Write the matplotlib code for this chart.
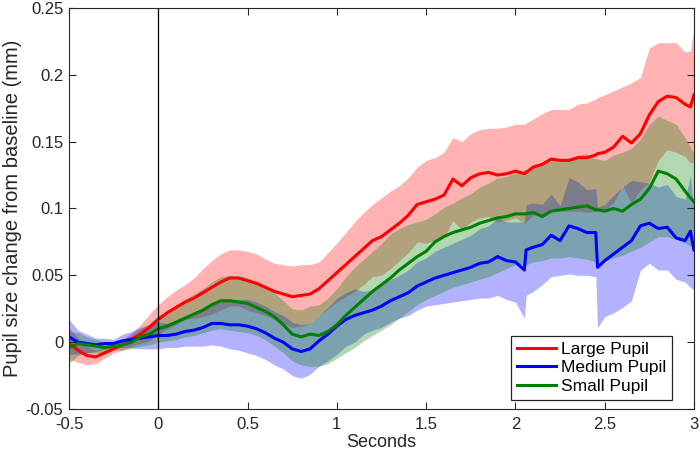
import numpy as np
import matplotlib
matplotlib.use('Agg')
import matplotlib.pyplot as plt
from matplotlib.ticker import FixedLocator, FixedFormatter

plt.rcParams['font.family'] = ['Liberation Sans', 'DejaVu Sans']

# time axis (s)
time_s = [-0.50, -0.45, -0.40, -0.35, -0.30, -0.25, -0.20, -0.15, -0.10, -0.05,
          0.00, 0.05, 0.10, 0.15, 0.20, 0.25, 0.30, 0.35, 0.40, 0.45,
          0.50, 0.55, 0.60, 0.65, 0.70, 0.75, 0.80, 0.85, 0.90, 0.95,
          1.00, 1.05, 1.10, 1.15, 1.20, 1.25, 1.30, 1.35, 1.40, 1.45,
          1.50, 1.55, 1.60, 1.65, 1.70, 1.75, 1.80, 1.85, 1.90, 1.95,
          2.00, 2.05, 2.06, 2.10, 2.15, 2.20, 2.25, 2.30, 2.35, 2.40,
          2.45, 2.46, 2.50, 2.55, 2.60, 2.65, 2.70, 2.75, 2.80, 2.85,
          2.90, 2.95, 2.98, 3.00]

# large pupil
large_mean = [-0.001, -0.006, -0.010, -0.011, -0.008, -0.005, -0.002, 0.002, 0.006, 0.011,
              0.017, 0.022, 0.026, 0.030, 0.033, 0.037, 0.041, 0.045, 0.048, 0.048,
              0.046, 0.044, 0.041, 0.038, 0.036, 0.034, 0.035, 0.036, 0.040, 0.046,
              0.052, 0.058, 0.064, 0.070, 0.076, 0.079, 0.084, 0.089, 0.095, 0.103,
              0.105, 0.107, 0.110, 0.122, 0.117, 0.123, 0.126, 0.127, 0.125, 0.126,
              0.128, 0.126, 0.127, 0.131, 0.133, 0.137, 0.136, 0.136, 0.138, 0.138,
              0.140, 0.141, 0.142, 0.146, 0.154, 0.149, 0.156, 0.170, 0.180, 0.184,
              0.183, 0.178, 0.176, 0.185]
large_err = [0.012, 0.009, 0.007, 0.005, 0.004, 0.003, 0.004, 0.005, 0.007, 0.010,
             0.011, 0.012, 0.013, 0.013, 0.015, 0.018, 0.020, 0.021, 0.021, 0.021,
             0.022, 0.022, 0.021, 0.021, 0.022, 0.023, 0.023, 0.022, 0.020, 0.021,
             0.022, 0.024, 0.026, 0.027, 0.027, 0.029, 0.029, 0.028, 0.028, 0.028,
             0.031, 0.031, 0.032, 0.031, 0.033, 0.033, 0.033, 0.033, 0.035, 0.035,
             0.035, 0.037, 0.037, 0.036, 0.038, 0.037, 0.038, 0.038, 0.040, 0.041,
             0.042, 0.042, 0.043, 0.042, 0.037, 0.045, 0.042, 0.050, 0.044, 0.040,
             0.041, 0.039, 0.042, 0.050]

# medium pupil
medium_mean = [0.004, 0.000, -0.001, -0.002, -0.001, -0.001, 0.001, 0.002, 0.003, 0.004,
               0.005, 0.005, 0.006, 0.008, 0.009, 0.011, 0.014, 0.014, 0.013, 0.013,
               0.012, 0.010, 0.007, 0.003, 0.000, -0.005, -0.007, -0.005, 0.001, 0.006,
               0.012, 0.017, 0.020, 0.022, 0.024, 0.027, 0.031, 0.034, 0.037, 0.042,
               0.045, 0.048, 0.050, 0.052, 0.054, 0.056, 0.059, 0.060, 0.064, 0.061,
               0.060, 0.054, 0.069, 0.071, 0.073, 0.080, 0.076, 0.087, 0.085, 0.082,
               0.082, 0.056, 0.061, 0.066, 0.071, 0.076, 0.087, 0.089, 0.085, 0.086,
               0.078, 0.076, 0.083, 0.069]
medium_err = [0.013, 0.009, 0.007, 0.005, 0.004, 0.003, 0.005, 0.006, 0.008, 0.009,
              0.010, 0.009, 0.010, 0.011, 0.012, 0.014, 0.016, 0.017, 0.018, 0.019,
              0.020, 0.020, 0.020, 0.020, 0.020, 0.020, 0.020, 0.019, 0.019, 0.020,
              0.021, 0.020, 0.020, 0.016, 0.015, 0.016, 0.016, 0.016, 0.017, 0.018,
              0.018, 0.020, 0.021, 0.022, 0.023, 0.024, 0.026, 0.027, 0.029, 0.029,
              0.030, 0.036, 0.034, 0.033, 0.030, 0.031, 0.026, 0.036, 0.035, 0.032,
              0.033, 0.045, 0.042, 0.044, 0.045, 0.045, 0.033, 0.030, 0.031, 0.032,
              0.031, 0.031, 0.042, 0.030]

# small pupil (band is a bit lopsided, so upper / lower kept apart)
small_mean = [-0.004, -0.001, -0.002, -0.003, -0.004, -0.003, -0.002, 0.000, 0.004, 0.006,
              0.010, 0.012, 0.015, 0.018, 0.021, 0.024, 0.028, 0.031, 0.031, 0.030,
              0.029, 0.026, 0.023, 0.019, 0.013, 0.006, 0.004, 0.006, 0.005, 0.008,
              0.013, 0.020, 0.026, 0.032, 0.038, 0.043, 0.048, 0.054, 0.059, 0.064,
              0.068, 0.075, 0.079, 0.082, 0.084, 0.086, 0.089, 0.091, 0.093, 0.094,
              0.096, 0.096, 0.096, 0.097, 0.094, 0.098, 0.099, 0.100, 0.101, 0.102,
              0.099, 0.099, 0.098, 0.100, 0.098, 0.103, 0.107, 0.115, 0.128, 0.126,
              0.122, 0.113, 0.108, 0.105]
small_err_up = [0.012, 0.008, 0.006, 0.005, 0.004, 0.003, 0.004, 0.005, 0.006, 0.008,
                0.010, 0.011, 0.013, 0.014, 0.015, 0.016, 0.017, 0.018, 0.019, 0.019,
                0.019, 0.019, 0.018, 0.018, 0.018, 0.019, 0.020, 0.021, 0.023, 0.025,
                0.027, 0.029, 0.030, 0.030, 0.030, 0.031, 0.033, 0.031, 0.029, 0.026,
                0.024, 0.021, 0.022, 0.022, 0.024, 0.025, 0.027, 0.028, 0.030, 0.030,
                0.031, 0.033, 0.033, 0.033, 0.040, 0.040, 0.038, 0.037, 0.039, 0.039,
                0.038, 0.038, 0.038, 0.040, 0.044, 0.042, 0.045, 0.048, 0.041, 0.040,
                0.041, 0.040, 0.038, 0.036]
small_err_dn = [0.012, 0.009, 0.006, 0.005, 0.004, 0.003, 0.004, 0.005, 0.007, 0.008,
                0.010, 0.011, 0.013, 0.014, 0.016, 0.017, 0.019, 0.021, 0.022, 0.022,
                0.022, 0.021, 0.021, 0.022, 0.021, 0.020, 0.021, 0.024, 0.023, 0.024,
                0.025, 0.028, 0.030, 0.031, 0.033, 0.034, 0.035, 0.036, 0.036, 0.036,
                0.036, 0.040, 0.041, 0.041, 0.041, 0.041, 0.042, 0.042, 0.041, 0.039,
                0.038, 0.038, 0.038, 0.037, 0.033, 0.035, 0.036, 0.036, 0.038, 0.040,
                0.039, 0.039, 0.037, 0.037, 0.033, 0.035, 0.036, 0.040, 0.049, 0.047,
                0.045, 0.039, 0.036, 0.035]

x_ticks = [-0.5, 0, 0.5, 1, 1.5, 2, 2.5, 3]
x_tick_labels = ['-0.5', '0', '0.5', '1', '1.5', '2', '2.5', '3']
y_ticks = [-0.05, 0, 0.05, 0.1, 0.15, 0.2, 0.25]
y_tick_labels = ['-0.05', '0', '0.05', '0.1', '0.15', '0.2', '0.25']

t = np.array(time_s)
series = [
    ('Large Pupil', (1, 0, 0), np.array(large_mean), np.array(large_err), np.array(large_err)),
    ('Medium Pupil', (0, 0, 1), np.array(medium_mean), np.array(medium_err), np.array(medium_err)),
    ('Small Pupil', (0, 0.5, 0), np.array(small_mean), np.array(small_err_up), np.array(small_err_dn)),
]

fig = plt.figure(figsize=(7.0, 4.51), dpi=100)
ax = fig.add_axes([0.0986, 0.0931, 0.8928, 0.8892])

# fill then line, per condition, like the matlab original
for name, col, m, up, dn in series:
    ax.fill_between(t, m - dn, m + up, color=col, alpha=0.3, linewidth=0)
    ax.plot(t, m, color=col, linewidth=2.2, label=name)

ax.axvline(0, color='black', linewidth=0.9)

ax.set_xlim(-0.5, 3)
ax.set_ylim(-0.05, 0.25)
ax.xaxis.set_major_locator(FixedLocator(x_ticks))
ax.xaxis.set_major_formatter(FixedFormatter(x_tick_labels))
ax.yaxis.set_major_locator(FixedLocator(y_ticks))
ax.yaxis.set_major_formatter(FixedFormatter(y_tick_labels))
ax.tick_params(direction='in', top=True, right=True, length=5, width=0.8,
               labelsize=12, colors='#262626')
ax.tick_params(axis='x', pad=6)
ax.tick_params(axis='y', pad=4)
for sp in ax.spines.values():
    sp.set_color('#262626')
    sp.set_linewidth(0.8)

ax.set_xlabel('Seconds', fontsize=13, color='#262626', labelpad=1)
ax.set_ylabel('Pupil size change from baseline (mm)', fontsize=14.5, color='#262626', labelpad=3)

leg = ax.legend(loc='lower right', bbox_to_anchor=(0.965, 0.022), fontsize=12.5,
                fancybox=False, framealpha=1, edgecolor='#262626',
                handlelength=2.2, handletextpad=0.3, labelspacing=0.2, borderpad=0.35,
                borderaxespad=0)
leg.get_frame().set_linewidth(0.9)

fig.savefig('out.png', dpi=100)
